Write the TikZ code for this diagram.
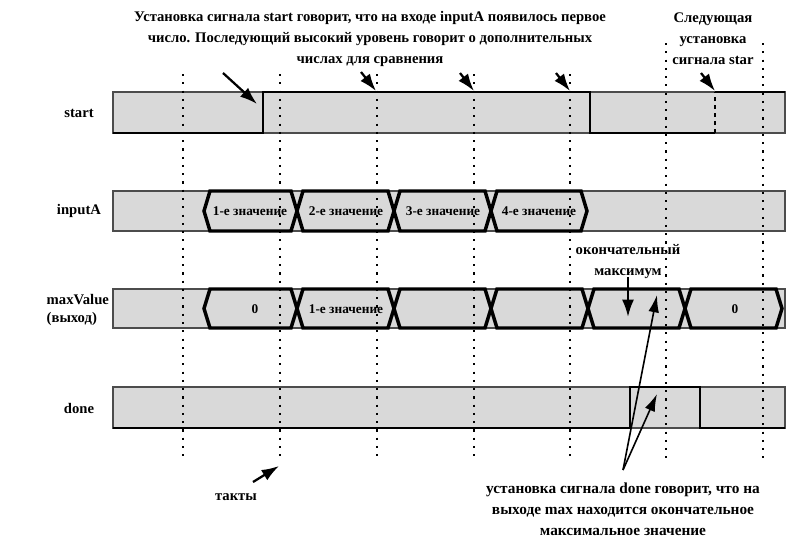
\documentclass[tikz,border=0pt]{standalone}
\usepackage{fontspec}
\setmainfont{Liberation Serif}
\usetikzlibrary{arrows.meta,positioning}

\begin{document}
\begin{tikzpicture}[
        x=0.75pt, y=-0.75pt,
        band/.style={fill=gray!30, draw=black!70, line width=1pt},
        clockline/.style={black, line width=1.6pt, dash pattern=on 1.6pt off 4.6pt},
        signal/.style={black, line width=2.2pt},
        bus/.style={black, line width=2.6pt, line join=miter},
        label/.style={font=\fontsize{11}{14}\selectfont\bfseries, align=left},
        value/.style={font=\fontsize{10}{12}\selectfont\bfseries, inner sep=1pt},
        note/.style={font=\fontsize{11}{15.75}\selectfont\bfseries, align=center, inner sep=0pt},
        pointer/.style={-{Latex[length=13pt,width=9pt]}, line width=1.7pt},
        thinpointer/.style={-{Latex[length=13pt,width=8pt]}, line width=1.2pt}
    ]
        \useasboundingbox (0,0) rectangle (797,547);

        % Bands
        \draw[band] (113,92) rectangle (785,133);
        \draw[band] (113,191) rectangle (785,231);
        \draw[band] (113,289) rectangle (785,328);
        \draw[band] (113,387) rectangle (785,428);

        % Clock lines
        \foreach \x in {183,280,377,474,570}
            \draw[clockline] (\x,74) -- (\x,460);
        \foreach \x in {666,763}
            \draw[clockline] (\x,43) -- (\x,460);

        % Signal names
        \node[label] (start) at (79,113) {start};
        \node[label] (inputA) at (79,211) {inputA};
        \node[label, anchor=west] (maxValue) at (42,310) {maxValue\\(выход)};
        \node[label] (done) at (79,408) {done};

        % start
        \draw[signal] (113,133) -- (263,133) -- (263,92) -- (590,92) -- (590,133) -- (715,133);
        \draw[signal, dashed] (715,133) -- (715,92);
        \draw[signal] (715,92) -- (785,92);

        % inputA
        \foreach \a/\b in {204/297,297/394,394/491,491/587}
            \draw[bus] (\a,211) -- (\a+6,191) -- (\b-6,191) -- (\b,211) -- (\b-6,231) -- (\a+6,231) -- cycle;
        \node[value] (in1) at (250,211) {1-е значение};
        \node[value] (in2) at (346,211) {2-е значение};
        \node[value] (in3) at (443,211) {3-е значение};
        \node[value] (in4) at (539,211) {4-е значение};

        % maxValue
        \foreach \a/\b in {204/297,297/394,394/491,491/588,588/685,685/782}
            \draw[bus] (\a,308.5) -- (\a+6,289) -- (\b-6,289) -- (\b,308.5) -- (\b-6,328) -- (\a+6,328) -- cycle;
        \node[value] (max0) at (255,309) {0};
        \node[value] (max1) at (346,309) {1-е значение};
        \node[value] (max6) at (735,309) {0};

        % done
        \draw[line width=1.3pt] (113,428) -- (630,428) -- (630,387) -- (700,387) -- (700,428) -- (785,428);

        % Notes
        \node[note] (startnote) at (370,39) {Установка сигнала start говорит, что на входе inputA появилось первое\\число. Последующий высокий уровень говорит о дополнительных\\числах для сравнения};
        \node[note] (nextnote) at (713,39) {Следующая\\установка\\сигнала star};
        \node[note] (finalnote) at (628,262) {окончательный\\максимум};
        \node[note] (ticknote) at (236,497) {такты};
        \node[note, font=\fontsize{11.5}{15.75}\selectfont\bfseries] (donenote) at (623,509) {установка сигнала done говорит, что на\\выходе max находится окончательное\\максимальное значение};

        % Arrow ends
        \coordinate (rise1) at (257,104);
        \coordinate (rise1tail) at (223,73);
        \coordinate (high2) at (376,91);
        \coordinate (high2tail) at (361,72);
        \coordinate (high3) at (474,91);
        \coordinate (high3tail) at (460,73);
        \coordinate (high4) at (570,91);
        \coordinate (high4tail) at (556,73);
        \coordinate (rise2) at (715,91);
        \coordinate (rise2tail) at (701,73);
        \coordinate (maxin) at (628,317);
        \coordinate (maxout) at (657,295);
        \coordinate (donehigh) at (657,394);
        \coordinate (donetail) at (623,470);
        \coordinate (tick) at (279,466);
        \coordinate (ticktail) at (253,482);

        % Arrows
        \draw[pointer] (rise1tail) -- (rise1);
        \draw[pointer] (high2tail) -- (high2);
        \draw[pointer] (high3tail) -- (high3);
        \draw[pointer] (high4tail) -- (high4);
        \draw[pointer] (rise2tail) -- (rise2);
        \draw[pointer] (finalnote.south) ++(0,-2) -- (maxin);
        \draw[thinpointer] (donetail) -- (maxout);
        \draw[thinpointer] (donetail) -- (donehigh);
        \draw[pointer] (ticktail) -- (tick);

    \end{tikzpicture}
\end{document}
